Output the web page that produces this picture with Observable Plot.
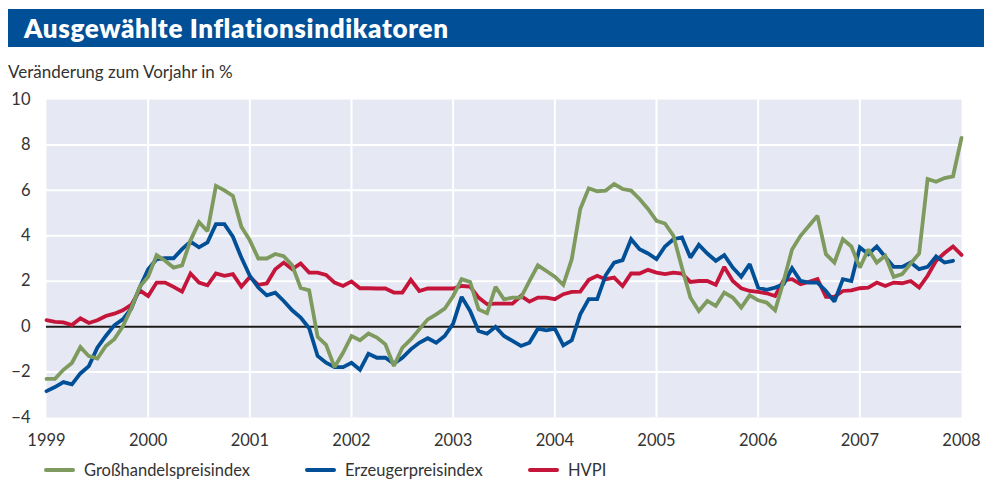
<!DOCTYPE html>
<html>
<head>
<meta charset="utf-8">
<script src="https://cdn.jsdelivr.net/npm/d3@7"></script>
<script src="https://cdn.jsdelivr.net/npm/@observablehq/plot@0.6"></script>
<style>
  html, body { margin: 0; padding: 0; background: #fff; width: 987px; height: 480px; overflow: hidden; }
  body { position: relative; font-family: "Lato", "Open Sans", sans-serif; color: #333; }
  #banner { position: absolute; left: 8px; top: 9px; width: 976px; height: 38px; background: #004f97; }
  #title { position: absolute; left: 16px; top: 3px; color: #fff; font-weight: 800; font-size: 26px; letter-spacing: 0.65px; white-space: nowrap; }
  #subtitle { position: absolute; left: 8px; top: 61px; font-size: 17px; color: #333; white-space: nowrap; }
  #chart { position: absolute; left: 0; top: 90px; }
  #legend { position: absolute; left: 0; top: 460px; height: 20px; width: 987px; }
  .item { position: absolute; top: 0; display: flex; align-items: center; height: 20px; font-size: 16.5px; color: #333; white-space: nowrap; }
  .sw { width: 31px; height: 4px; border-radius: 2px; margin-right: 9px; }
</style>
</head>
<body>
<div id="banner"><div id="title"></div></div>
<div id="subtitle"></div>
<div id="chart"></div>
<div id="legend"></div>
<script>
const titleText = "Ausgewählte Inflationsindikatoren";
const subtitleText = "Veränderung zum Vorjahr in %";
const seriesNames = ["Großhandelspreisindex", "Erzeugerpreisindex", "HVPI"];
const seriesColors = ["#7e9a5e", "#004f97", "#c5153b"];
const startYear = 1999;
const yearTicks = [1999, 2000, 2001, 2002, 2003, 2004, 2005, 2006, 2007, 2008];
const valueTicks = [-4, -2, 0, 2, 4, 6, 8, 10];

// Monthly values, Jan 1999 onward
const grosshandel = [
  -2.3,-2.3,-1.9,-1.6,-0.9,-1.3,-1.4,-0.85,-0.55,0.0,0.8,1.75,
  2.2,3.15,2.9,2.6,2.7,3.8,4.6,4.2,6.2,6.0,5.75,4.4,
  3.8,3.0,3.0,3.2,3.1,2.7,1.7,1.6,-0.45,-0.8,-1.78,-1.15,
  -0.41,-0.6,-0.3,-0.48,-0.78,-1.73,-0.93,-0.56,-0.12,0.32,0.54,0.79,
  1.35,2.09,1.97,0.76,0.59,1.75,1.2,1.28,1.28,2.0,2.7,2.45,
  2.2,1.84,2.97,5.18,6.09,5.96,5.99,6.28,6.06,5.99,5.62,5.18,
  4.66,4.54,4.0,2.6,1.28,0.69,1.13,0.91,1.5,1.28,0.84,1.38,
  1.16,1.06,0.72,2.0,3.4,4.0,4.44,4.88,3.19,2.82,3.85,3.53,
  2.6,3.4,2.82,3.12,2.19,2.31,2.78,3.22,6.5,6.38,6.54,6.62,
  8.31
];
const erzeuger = [
  -2.84,-2.66,-2.44,-2.54,-2.06,-1.74,-0.93,-0.41,0.06,0.32,0.79,1.72,
  2.53,2.97,3.01,3.01,3.41,3.74,3.49,3.71,4.51,4.51,3.96,3.04,
  2.24,1.72,1.38,1.5,1.13,0.72,0.4,-0.07,-1.29,-1.59,-1.78,-1.78,
  -1.59,-1.9,-1.19,-1.37,-1.37,-1.63,-1.37,-1.0,-0.71,-0.51,-0.71,-0.41,
  0.13,1.31,0.69,-0.19,-0.31,-0.01,-0.41,-0.63,-0.85,-0.71,-0.09,-0.16,
  -0.09,-0.82,-0.6,0.54,1.21,1.21,2.26,2.82,2.93,3.85,3.41,3.22,
  2.97,3.53,3.85,3.93,3.04,3.6,3.22,2.9,3.15,2.6,2.2,2.75,
  1.72,1.62,1.72,1.87,2.57,2.01,1.94,1.94,1.57,1.1,2.09,2.01,
  3.49,3.19,3.53,3.07,2.63,2.63,2.82,2.53,2.63,3.09,2.82,2.9
];
const hvpi = [
  0.29,0.21,0.19,0.07,0.37,0.16,0.28,0.47,0.57,0.72,0.96,1.6,
  1.35,1.94,1.94,1.75,1.54,2.34,1.94,1.82,2.34,2.24,2.31,1.76,
  2.19,1.84,1.9,2.53,2.82,2.53,2.78,2.38,2.38,2.28,1.94,1.79,
  1.99,1.69,1.69,1.68,1.68,1.5,1.5,2.06,1.57,1.68,1.68,1.68,
  1.68,1.79,1.76,1.28,0.99,1.01,1.01,1.01,1.35,1.1,1.28,1.28,
  1.21,1.43,1.53,1.54,2.06,2.24,2.09,2.16,1.79,2.34,2.34,2.5,
  2.38,2.31,2.38,2.34,1.97,2.01,2.01,1.84,2.63,2.01,1.69,1.57,
  1.53,1.47,1.35,2.04,2.09,1.87,1.97,2.09,1.31,1.31,1.57,1.6,
  1.69,1.72,1.94,1.79,1.94,1.91,2.01,1.72,2.24,2.9,3.24,3.53,
  3.16
];

document.getElementById("title").textContent = titleText;
document.getElementById("subtitle").textContent = subtitleText;

const toRows = (arr, name) => arr.map((v, i) => ({t: startYear + i / 12, v, name}));
const rowsG = toRows(grosshandel, seriesNames[0]);
const rowsE = toRows(erzeuger, seriesNames[1]);
const rowsH = toRows(hvpi, seriesNames[2]);

const fmtNum = d => (d < 0 ? "\u2212" + Math.abs(d) : String(d));

const chart = Plot.plot({
  width: 987,
  height: 360,
  marginLeft: 46,
  marginRight: 26,
  marginTop: 9,
  marginBottom: 33,
  style: {fontFamily: "Lato, 'Open Sans', sans-serif", fontSize: "16.5px", color: "#333", background: "transparent", overflow: "visible"},
  x: {domain: [1999, 2008]},
  y: {domain: [-4, 10]},
  marks: [
    Plot.frame({fill: "#e6e9f3", stroke: null}),
    Plot.gridX(yearTicks.slice(1, -1), {stroke: "#fff", strokeOpacity: 1, strokeWidth: 2}),
    Plot.gridY(valueTicks.slice(1, -1), {stroke: "#fff", strokeOpacity: 1, strokeWidth: 2}),
    Plot.ruleY([0], {stroke: "#1a1a1a", strokeWidth: 2}),
    Plot.line(rowsH, {x: "t", y: "v", stroke: seriesColors[2], strokeWidth: 3.8, strokeLinejoin: "miter", strokeMiterlimit: 2}),
    Plot.line(rowsE, {x: "t", y: "v", stroke: seriesColors[1], strokeWidth: 3.8, strokeLinejoin: "miter", strokeMiterlimit: 2}),
    Plot.line(rowsG, {x: "t", y: "v", stroke: seriesColors[0], strokeWidth: 3.8, strokeLinejoin: "miter", strokeMiterlimit: 2}),
    Plot.axisX({ticks: yearTicks, tickFormat: d => String(d), tickSize: 0, tickPadding: 17, label: null}),
    Plot.axisY({ticks: valueTicks, tickFormat: fmtNum, tickSize: 0, tickPadding: 16, label: null})
  ]
});
document.getElementById("chart").appendChild(chart);

const legendPos = [44, 305, 528];
const legend = document.getElementById("legend");
seriesNames.forEach((n, i) => {
  const it = document.createElement("div");
  it.className = "item";
  it.style.left = legendPos[i] + "px";
  const sw = document.createElement("div");
  sw.className = "sw";
  sw.style.background = seriesColors[i];
  const tx = document.createElement("span");
  tx.textContent = n;
  it.appendChild(sw);
  it.appendChild(tx);
  legend.appendChild(it);
});
</script>
</body>
</html>
